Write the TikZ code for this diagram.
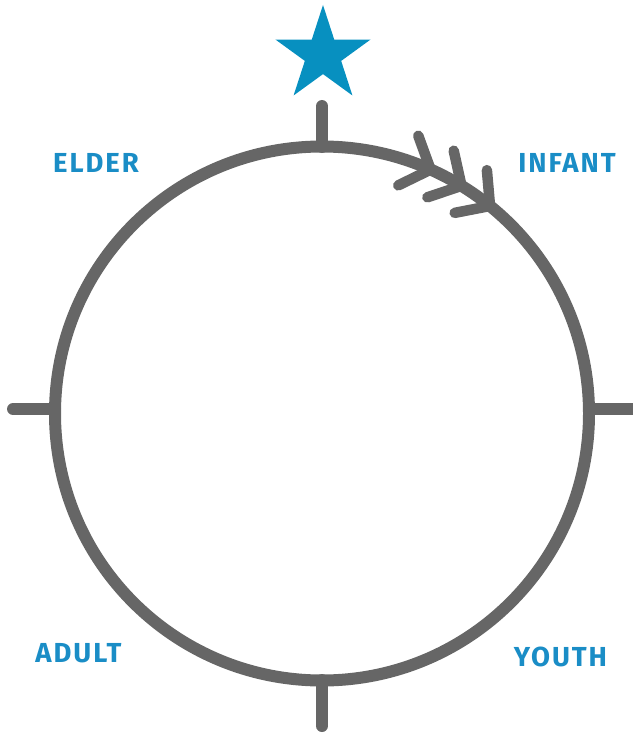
\documentclass[tikz,border=0pt]{standalone}
\usepackage{fontspec}
\setmainfont{Fira Sans}
\newfontfamily\labelfont[LetterSpace=7]{Fira Sans}
\usetikzlibrary{shapes.geometric}
\definecolor{ringgray}{HTML}{666666}
\definecolor{starblue}{HTML}{0790C0}
\definecolor{textblue}{HTML}{1A8DC6}
\tikzset{
  ringline/.style={draw=ringgray, line width=12pt, line cap=round},
  chev/.style={draw=ringgray, line width=10.5pt, line cap=round, line join=round},
  stage/.style={text=textblue, font=\labelfont\bfseries\fontsize{27.5}{27.5}\selectfont, inner sep=0pt},
}
\begin{document}
\begin{tikzpicture}[x=1pt,y=-1pt]
\useasboundingbox (0,0) rectangle (632,733);
% ring
\node[circle, draw=ringgray, line width=12pt, minimum size=534pt, inner sep=0pt, outer sep=0pt] (ring) at (322,413.5) {};
% ticks
\coordinate (tt) at (322,106);
\coordinate (tb) at (322,726);
\coordinate (tl) at (13,409);
\coordinate (tr) at (640,409);
\draw[ringline] (322,147) -- (tt);
\draw[ringline] (322,680) -- (tb);
\draw[ringline] (55,409) -- (tl);
\draw[ringline] (589,409) -- (tr);
% star
\node[star, star points=5, star point ratio=2.618, minimum size=100pt, inner sep=0pt, outer sep=0pt, fill=starblue] (topstar) at (323,55) {};
% chevrons
\foreach \t/\n in {66/a,58.5/b,51/c}{
  \coordinate (v\n) at ({322+267*cos(\t)},{413.5-267*sin(\t)});
  \coordinate (p\n) at ({322+267*cos(\t)+36*cos(\t+90-46)},{413.5-267*sin(\t)-36*sin(\t+90-46)});
  \coordinate (q\n) at ({322+267*cos(\t)+36*cos(\t+90+50)},{413.5-267*sin(\t)-36*sin(\t+90+50)});
  \draw[chev] (p\n) -- (v\n) -- (q\n);
}
% labels
\node[stage] (elder) at (96,162.5) {ELDER};
\node[stage] (infant) at (567,163) {INFANT};
\node[stage] (adult) at (78.5,653.5) {ADULT};
\node[stage] (youth) at (560.5,656.5) {YOUTH};
\end{tikzpicture}
\end{document}
